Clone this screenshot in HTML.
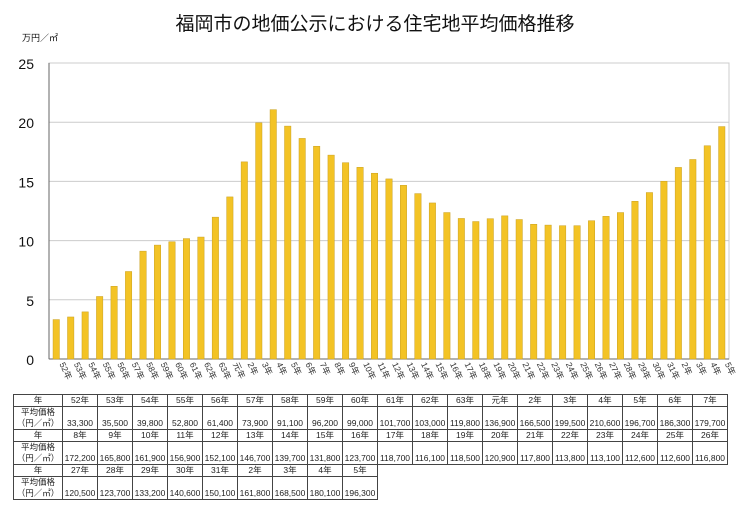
<!DOCTYPE html>
<html><head><meta charset="utf-8"><style>
body{margin:0;background:#fff;width:750px;height:505px;overflow:hidden;font-family:"Liberation Sans","Noto Sans CJK JP",sans-serif}
table{position:absolute;left:13px;top:394px;border-collapse:collapse;font-size:8.5px;color:#222}
td{border:1px solid #444;padding:0;width:34px;text-align:center;white-space:nowrap}
td.h{width:48px;line-height:10px}
tr.y td{height:11px;line-height:11px}
tr.v td{height:20px;vertical-align:bottom;line-height:11px}
tr.v td.h{vertical-align:middle}
td.e{border:none}
</style></head><body>
<svg width="750" height="390" style="position:absolute;left:0;top:0">
<text x="375" y="30" font-size="19" text-anchor="middle" fill="#111">福岡市の地価公示における住宅地平均価格推移</text>
<text x="22" y="41" font-size="9" fill="#111">万円／㎡</text>
<g id="g"></g>
</svg>
<table id="tbl"></table>
<script>
const years=["52年","53年","54年","55年","56年","57年","58年","59年","60年","61年","62年","63年","元年","2年","3年","4年","5年","6年","7年","8年","9年","10年","11年","12年","13年","14年","15年","16年","17年","18年","19年","20年","21年","22年","23年","24年","25年","26年","27年","28年","29年","30年","31年","2年","3年","4年","5年"];
const prices=[33300,35500,39800,52800,61400,73900,91100,96200,99000,101700,103000,119800,136900,166500,199500,210600,196700,186300,179700,172200,165800,161900,156900,152100,146700,139700,131800,123700,118700,116100,118500,120900,117800,113800,113100,112600,112600,116800,120500,123700,133200,140600,150100,161800,168500,180100,196300];
const yTicks=[0,5,10,15,20,25];
const L=49,R=729,T=63,B=359,ymax=25;
const y=v=>B-(v/ymax)*(B-T);
const step=(R-L)/years.length;
const x=i=>L+step*(i+0.5);
const g=document.getElementById('g');
const NS='http://www.w3.org/2000/svg';
function mk(t,a){const e=document.createElementNS(NS,t);for(const k in a)e.setAttribute(k,a[k]);g.appendChild(e);return e;}
yTicks.forEach(v=>{
 if(v>0){const l=mk('line',{x1:L,x2:R,y1:y(v),y2:y(v),stroke:'#ccc','stroke-width':1});
 
 }
 const t=mk('text',{x:34,y:y(v)+6,'font-size':14,'text-anchor':'end',fill:'#111'});t.textContent=v;
 
 
});
const fr=mk('rect',{x:L,y:T,width:R-L,height:B-T,fill:'none',stroke:'#ccc'});


const ax=mk('line',{x1:L,x2:L,y1:T,y2:B,stroke:'#666'});


const bx=mk('line',{x1:L,x2:R,y1:B,y2:B,stroke:'#666'});


years.forEach((yr,i)=>{
 const v=prices[i]/10000;
 const r=mk('rect',{x:x(i)-3.2,y:y(v),width:6.4,height:B-y(v),fill:'#f3c325',stroke:'#c9a020','stroke-width':0.5});
 
 
 const t=mk('text',{transform:`translate(${x(i)+3},${B+5}) rotate(65)`,'font-size':8.5,fill:'#333'});t.textContent=yr;
 
 
});
const tbl=document.getElementById('tbl');
const fmt=n=>n.toLocaleString('en-US');
[[0,19],[19,38],[38,47]].forEach(([a,b])=>{
 let r1='<tr class="y"><td class="h">年</td>',r2='<tr class="v"><td class="h">平均価格<br>（円／㎡）</td>';
 for(let i=a;i<a+19;i++){
  if(i<b){r1+='<td>'+years[i]+'</td>';r2+='<td>'+fmt(prices[i])+'</td>';}
  else{r1+='<td class="e"></td>';r2+='<td class="e"></td>';}
 }
 tbl.insertAdjacentHTML('beforeend',r1+'</tr>'+r2+'</tr>');
});
</script>
</body></html>
